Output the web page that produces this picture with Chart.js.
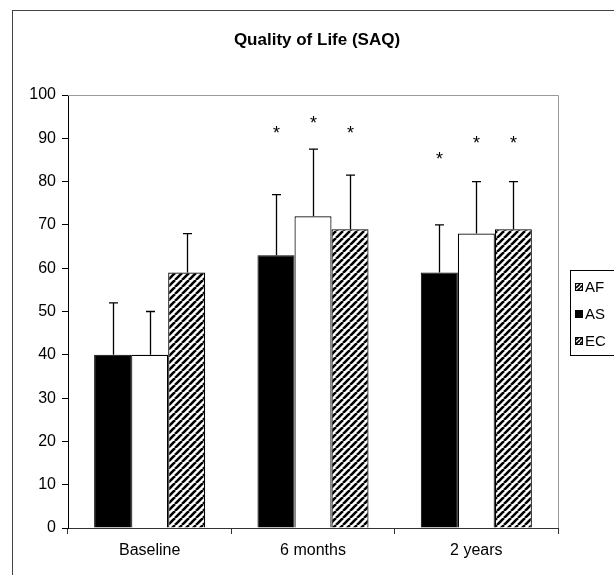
<!DOCTYPE html>
<html>
<head>
<meta charset="utf-8">
<script src="https://cdn.jsdelivr.net/npm/chart.js@4/dist/chart.umd.min.js"></script>
<style>
  body { margin: 0; background: #fff; }
  #wrap { position: relative; width: 614px; height: 575px; overflow: hidden; }
  #frame { position: absolute; left: 12px; top: 10px; width: 700px; height: 700px; border: 1px solid #444; }
  #qol { position: absolute; left: 0; top: 0; }
</style>
</head>
<body>
<div id="wrap">
  <div id="frame"></div>
  <canvas id="qol" width="614" height="575"></canvas>
</div>
<script>
const categories = ['Baseline', '6 months', '2 years'];
const seriesLabels = ['AF', 'AS', 'EC'];
const blackValues = [40, 63, 59];
const whiteValues = [40, 72, 68];
const hatchValues = [59, 69, 69];
// upper end of each error bar
const blackErrTop = [52, 77, 70];
const whiteErrTop = [50, 87.5, 80];
const hatchErrTop = [68, 81.5, 80];
// where the significance stars sit (null = no star)
const blackStars = [null, 92, 86];
const whiteStars = [null, 94.3, 89.5];
const hatchStars = [null, 92, 89.5];
const legendIcons = ['hatch', 'solid', 'hatch'];

function makeHatch(size, width) {
    const c = document.createElement('canvas');
    c.width = size; c.height = size;
    const g = c.getContext('2d');
    g.fillStyle = '#fff';
    g.fillRect(0, 0, size, size);
    g.strokeStyle = '#000';
    g.lineWidth = width;
    for (const off of [-size, 0, size]) {
        g.beginPath();
        g.moveTo(off, size);
        g.lineTo(off + size, 0);
        g.stroke();
    }
    return c;
}

const ctx = document.getElementById('qol').getContext('2d');
const hatch = ctx.createPattern(makeHatch(7, 2.6), 'repeat');
const smallHatch = ctx.createPattern(makeHatch(4, 1.6), 'repeat');

const errTops = [blackErrTop, whiteErrTop, hatchErrTop];
const stars = [blackStars, whiteStars, hatchStars];

const extras = {
    id: 'extras',
    afterDatasetsDraw(chart) {
        const c = chart.ctx;
        const y = chart.scales.y;
        const area = chart.chartArea;
        c.save();
        // plot area border (top / right)
        c.strokeStyle = '#9a9a9a';
        c.lineWidth = 1;
        c.beginPath();
        c.moveTo(area.left, area.top + 0.5);
        c.lineTo(area.right + 0.5, area.top + 0.5);
        c.lineTo(area.right + 0.5, area.bottom);
        c.stroke();

        chart.data.datasets.forEach((ds, i) => {
            const meta = chart.getDatasetMeta(i);
            meta.data.forEach((bar, j) => {
                const top = y.getPixelForValue(errTops[i][j]);
                const x = Math.round(bar.x) + 0.5;
                c.strokeStyle = '#000';
                c.lineWidth = 1.3;
                c.beginPath();
                c.moveTo(x, bar.y);
                c.lineTo(x, top);
                c.moveTo(x - 4.5, top);
                c.lineTo(x + 4.5, top);
                c.stroke();
                if (stars[i][j] !== null) {
                    c.fillStyle = '#000';
                    c.font = '18px "Liberation Sans", Arial, sans-serif';
                    c.textAlign = 'center';
                    c.textBaseline = 'middle';
                    c.fillText('*', x, y.getPixelForValue(stars[i][j]) + 4);
                }
            });
        });
        c.restore();
    },
    afterDraw(chart) {
        const c = chart.ctx;
        c.save();
        // title
        c.fillStyle = '#000';
        c.font = 'bold 17px "Liberation Sans", Arial, sans-serif';
        c.textAlign = 'center';
        c.textBaseline = 'middle';
        c.fillText('Quality of Life (SAQ)', 317, 40);
        // legend
        c.strokeStyle = '#000';
        c.lineWidth = 1;
        c.strokeRect(570.5, 270.5, 60, 85);
        c.font = '15px "Liberation Sans", Arial, sans-serif';
        c.textAlign = 'left';
        const ys = [287, 314, 341];
        seriesLabels.forEach((lab, i) => {
            c.fillStyle = legendIcons[i] === 'solid' ? '#000' : smallHatch;
            c.fillRect(575, ys[i] - 4, 8, 8);
            c.strokeRect(575.5, ys[i] - 3.5, 7, 7);
            c.fillStyle = '#000';
            c.fillText(lab, 585, ys[i] + 1);
        });
        c.restore();
    }
};

new Chart(ctx, {
    type: 'bar',
    data: {
        labels: categories,
        datasets: [
            { label: seriesLabels[0], data: blackValues, backgroundColor: '#000', borderColor: '#000', borderWidth: 1 },
            { label: seriesLabels[1], data: whiteValues, backgroundColor: '#fff', borderColor: '#000', borderWidth: 1.2 },
            { label: seriesLabels[2], data: hatchValues, backgroundColor: hatch, borderColor: '#000', borderWidth: 1.2 }
        ]
    },
    options: {
        responsive: false,
        animation: false,
        layout: { padding: { left: 0, top: 95, right: 56, bottom: 0 } },
        plugins: { legend: { display: false }, tooltip: { enabled: false } },
        datasets: { bar: { barPercentage: 1, categoryPercentage: 0.68 } },
        scales: {
            x: {
                afterFit(scale) { scale.height = 47; },
                border: { color: '#333', width: 1 },
                grid: { offset: true, drawOnChartArea: false, tickLength: 6, color: '#333' },
                ticks: { color: '#000', padding: 7, font: { family: '"Liberation Sans", Arial, sans-serif', size: 16 } }
            },
            y: {
                min: 0, max: 100,
                afterFit(scale) { scale.width = 68; },
                border: { color: '#000', width: 1 },
                grid: { drawOnChartArea: false, tickLength: 6, color: '#000' },
                ticks: { stepSize: 10, color: '#000', padding: 6, font: { family: '"Liberation Sans", Arial, sans-serif', size: 16 } }
            }
        }
    },
    plugins: [extras]
});
</script>
</body>
</html>
